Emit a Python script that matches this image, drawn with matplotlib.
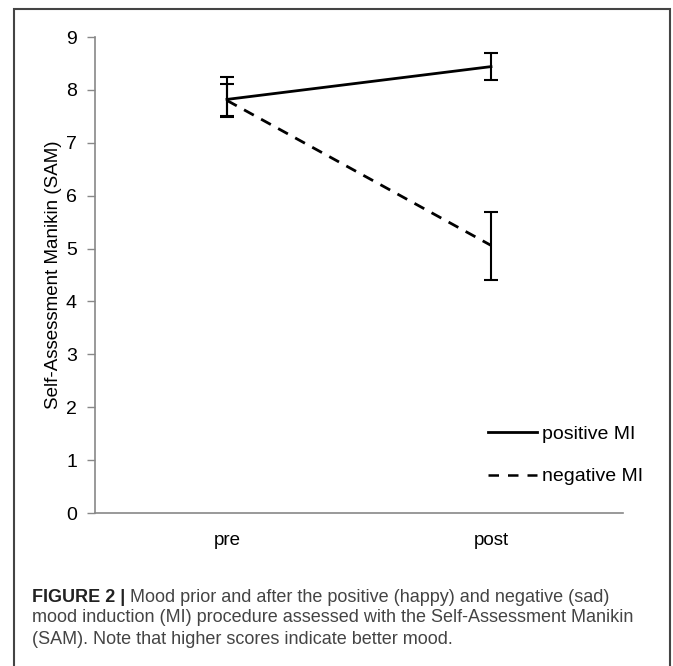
import matplotlib
matplotlib.use("Agg")
import matplotlib.pyplot as plt
from matplotlib.patches import Rectangle
from matplotlib.lines import Line2D

# data
phases = ["pre", "post"]
positive_mi = [7.82, 8.44]
positive_err_low = [0.32, 0.26]
positive_err_high = [0.30, 0.26]
negative_mi = [7.80, 5.06]
negative_err_low = [0.31, 0.66]
negative_err_high = [0.45, 0.64]
yticks = list(range(0, 10))

plt.rcParams['font.family'] = ['Liberation Sans', 'DejaVu Sans']

fig = plt.figure(figsize=(6.73, 6.66), dpi=100)
ax = fig.add_axes([95 / 673, 1 - 513 / 666, 528 / 673, 476 / 666])

x = list(range(len(phases)))
ax.errorbar(x, positive_mi, yerr=[positive_err_low, positive_err_high],
            color='black', lw=2, elinewidth=1.5, capsize=5, capthick=1.5,
            zorder=3)
ax.errorbar(x, negative_mi, yerr=[negative_err_low, negative_err_high],
            color='black', lw=2, elinewidth=1.5, capsize=5, capthick=1.5,
            linestyle=(0, (4, 3)), zorder=3)

ax.set_xlim(-0.5, 1.5)
ax.set_ylim(0, 9)
ax.set_xticks(x)
ax.set_xticklabels(phases, fontsize=13.5)
ax.set_yticks(yticks)
ax.set_yticklabels([str(t) for t in yticks], fontsize=14)
ax.tick_params(axis='x', length=0, pad=14)
ax.tick_params(axis='y', length=6, width=1, color='#888888', pad=7)
for side in ['top', 'right']:
    ax.spines[side].set_visible(False)
for side in ['left', 'bottom']:
    ax.spines[side].set_color('#888888')
    ax.spines[side].set_linewidth(1.2)
ax.set_ylabel("Self-Assessment Manikin (SAM)", fontsize=13.5, labelpad=3)

handles = [Line2D([0], [0], color='black', lw=2),
           Line2D([0], [0], color='black', lw=1.8, linestyle=(0, (4.2, 3.6)))]
ax.legend(handles, ["positive MI", "negative MI"], loc='upper left',
          bbox_to_anchor=(0.745, 0.184), frameon=False, fontsize=14,
          handlelength=2.5, handletextpad=0.26, labelspacing=1.27,
          borderpad=0, borderaxespad=0)

# outer frame of the figure panel
fig.patches.append(Rectangle((14 / 673, -0.02), 656 / 673, 1.02 - 9 / 666,
                             transform=fig.transFigure, fill=False,
                             edgecolor='#444444', lw=1.5))

# caption
cap_x = 32 / 673
bold = fig.text(cap_x, 1 - 597 / 666, "FIGURE 2 |", fontsize=13,
                fontweight='bold', color='#222222', va='center')
ax.annotate(" Mood prior and after the positive (happy) and negative (sad)",
            xy=(1, 0.5), xycoords=bold, va='center', ha='left',
            fontsize=13, color='#444444')
fig.text(cap_x, 1 - 618 / 666,
         "mood induction (MI) procedure assessed with the Self-Assessment Manikin",
         fontsize=13, color='#444444', va='center')
fig.text(cap_x, 1 - 640 / 666,
         "(SAM). Note that higher scores indicate better mood.",
         fontsize=13, color='#444444', va='center')

fig.savefig("out.png", dpi=100)
